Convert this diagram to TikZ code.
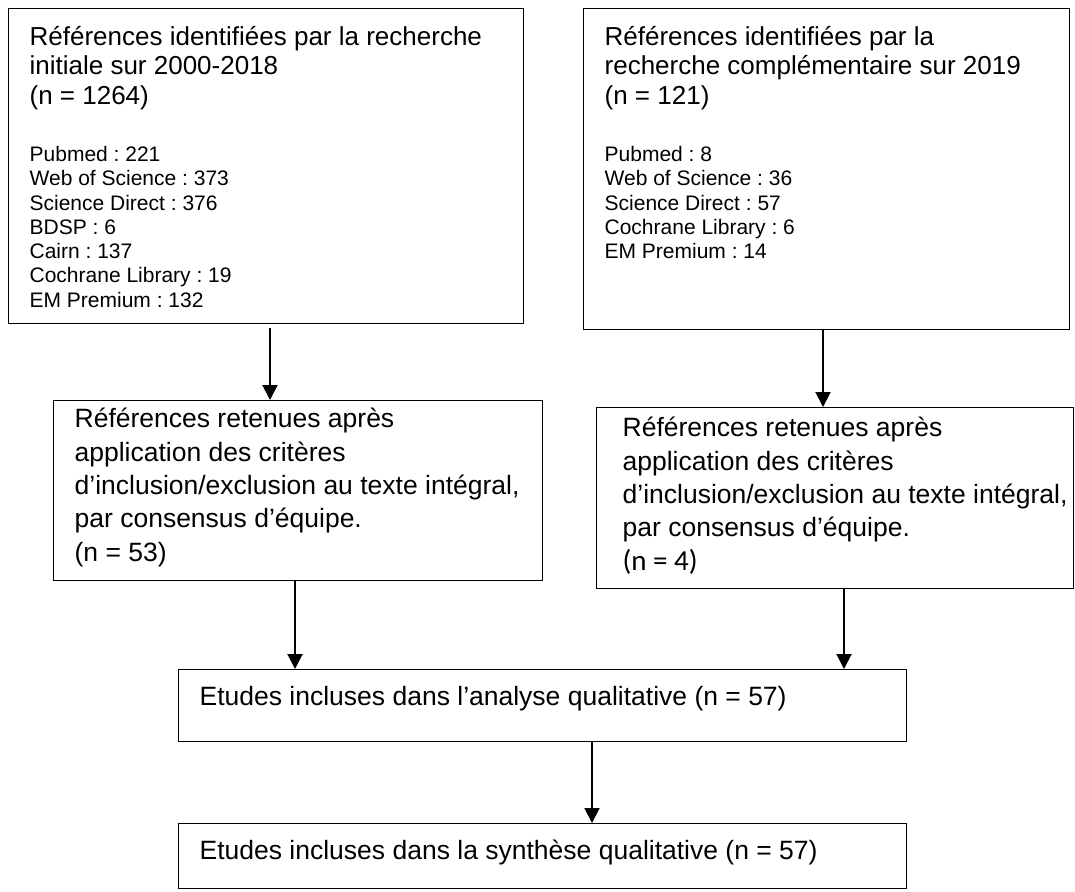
\documentclass[tikz,border=0pt]{standalone}
\usepackage{fontspec}
\setmainfont{Liberation Sans}
\newfontfamily\calibri{Carlito}
\usetikzlibrary{arrows.meta}
\frenchspacing

\newcommand{\bigtxt}{\fontsize{26pt}{29.5pt}\selectfont}
\newcommand{\smalltxt}{\fontsize{21pt}{24.3pt}\selectfont}
\newcommand{\retxt}{\fontsize{26.5pt}{33.4pt}\selectfont}

\tikzstyle{block} = [draw, line width=1.3pt, rectangle, anchor=north west,
    align=justify, inner ysep=0pt, inner xsep=21pt]
\tikzstyle{arrow} = [line width=2pt, -{Triangle[width=15pt, length=15pt]}]

\begin{document}
\begin{tikzpicture}[x=1pt, y=1pt]
    \useasboundingbox (0,0) rectangle (1075,-891);

    \node [block, text width=473pt, text height=36.5pt, text depth=278.5pt] (init) at (8,-8)
        {{\bigtxt Références identifiées par la recherche\\ initiale sur 2000-2018\\ (n = 1264)\par}
         \vspace{33pt}
         {\smalltxt Pubmed : 221\\ Web of Science : 373\\ Science Direct : 376\\ BDSP : 6\\ Cairn : 137\\ Cochrane Library : 19\\ EM Premium : 132\par}};
    \node [block, text width=444pt, text height=36.5pt, text depth=284.5pt] (compl) at (583,-8)
        {{\bigtxt Références identifiées par la\\ recherche complémentaire sur 2019\\ (n = 121)\par}
         \vspace{33pt}
         {\smalltxt Pubmed : 8\\ Web of Science : 36\\ Science Direct : 57\\ Cochrane Library : 6\\ EM Premium : 14\par}};

    \node [block, text width=447pt, text height=27pt, text depth=153pt] (retinit) at (53,-400)
        {{\retxt Références retenues après\\ application des critères\\ d’inclusion/exclusion au texte intégral,\\ par consensus d’équipe.\\ (n = 53)\par}};
    \node [block, inner xsep=5pt, text width=467pt, text height=29pt, text depth=152pt] (retcompl) at (596,-407)
        {{\leftskip=21pt \retxt Références retenues après\\ application des critères\\ d’inclusion/exclusion au texte intégral,\\ par consensus d’équipe.\\ {\calibri\fontsize{29pt}{33.4pt}\selectfont (n = 4)}\par}};

    \node [block, text width=686pt, text height=36pt, text depth=36pt] (analyse) at (178,-669)
        {{\retxt Etudes incluses dans l’analyse qualitative (n = 57)\par}};
    \node [block, text width=686pt, text height=36pt, text depth=29pt] (synthese) at (178,-823)
        {{\retxt Etudes incluses dans la synthèse qualitative (n = 57)\par}};

    \draw [arrow, shorten <=4pt] (init.south -| 270,0) -- (retinit.north -| 270,0);
    \draw [arrow] (compl.south -| 823,0) -- (retcompl.north -| 823,0);
    \draw [arrow] (retinit.south -| 295,0) -- (analyse.north -| 295,0);
    \draw [arrow] (retcompl.south -| 844,0) -- (analyse.north -| 844,0);
    \draw [arrow] (analyse.south -| 592,0) -- (synthese.north -| 592,0);

\end{tikzpicture}
\end{document}
